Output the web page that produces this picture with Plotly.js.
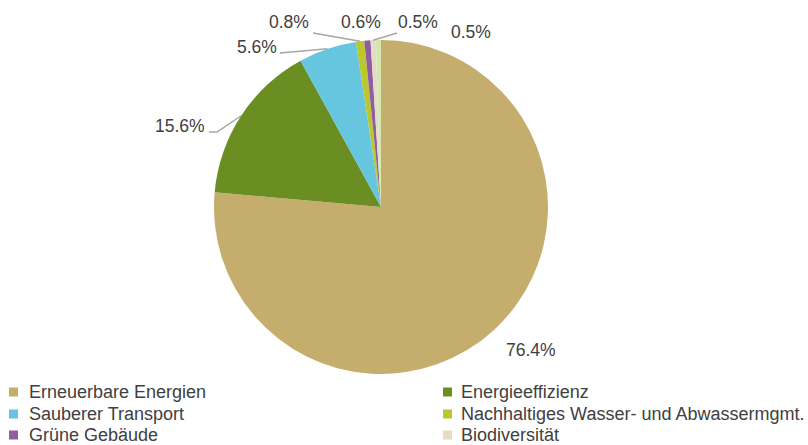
<!DOCTYPE html>
<html>
<head>
<meta charset="utf-8">
<script src="https://cdn.plot.ly/plotly-3.0.1.min.js"></script>
<style>html,body{margin:0;padding:0;background:#fff;}#chart{width:808px;height:445px;}</style>
</head>
<body>
<div id="chart"></div>
<script>
// ---- data ----
const categories = ["Erneuerbare Energien","Energieeffizienz","Sauberer Transport","Nachhaltiges Wasser- und Abwassermgmt.","Grüne Gebäude","Biodiversität","Sonstige"];
const shares = [76.4, 15.6, 5.6, 0.8, 0.6, 0.5, 0.5];
const shareLabels = ["76.4%","15.6%","5.6%","0.8%","0.6%","0.5%","0.5%"];

// ---- style ----
const colors = ["#C5AD6E","#6A8E22","#66C5DF","#BBC72E","#8E5FA0","#E6DCC6","#D3E8B0"];
// label centre positions (px) and leader elbow points (px, null = no leader)
const labelPos = [[531,350],[180,126],[257,47],[289,22],[361,22],[418,22],[471,32]];
const leaderEnd = [null,[[217,132],[209,132]],[[280,53]],[[313,33]],null,[[397,33]],null];
const legendVisible = 6;

const W = 808, H = 445;
const M = {l: 0, r: 46, t: 40, b: 71};
const pw = W - M.l - M.r, ph = H - M.t - M.b;
const cx = M.l + pw / 2, cy = M.t + ph / 2, R = Math.min(pw, ph) / 2;
const px2x = x => (x - M.l) / pw;
const py2y = y => (H - M.b - y) / ph;

const FONT = "Liberation Sans, Arial, sans-serif";
const total = shares.reduce((a, b) => a + b, 0);

const annotations = [];
const shapes = [];
let cum = 0;
shares.forEach((v, i) => {
  const mid = (cum + v / 2) / total * 2 * Math.PI; // clockwise from top
  cum += v;
  const ax = cx + R * Math.sin(mid), ay = cy - R * Math.cos(mid);
  annotations.push({
    xref: "paper", yref: "paper", x: px2x(labelPos[i][0]), y: py2y(labelPos[i][1]),
    text: shareLabels[i], showarrow: false, xanchor: "center", yanchor: "middle",
    font: {family: FONT, size: 17.5, color: "#404040"}
  });
  if (leaderEnd[i]) {
    let d = "M" + px2x(ax) + "," + py2y(ay);
    leaderEnd[i].forEach(p => { d += " L" + px2x(p[0]) + "," + py2y(p[1]); });
    shapes.push({type: "path", xref: "paper", yref: "paper", path: d,
      line: {color: "#A6A6A6", width: 1.5}});
  }
});

// manual legend (two columns)
const legCol = [[9, 27], [443, 459]];
const legRowY = [392, 414, 435];
const sq = 9;
for (let i = 0; i < legendVisible; i++) {
  const col = i % 2, row = Math.floor(i / 2);
  const y = legRowY[row];
  shapes.push({type: "rect", xref: "paper", yref: "paper",
    x0: px2x(legCol[col][0]), x1: px2x(legCol[col][0] + sq),
    y0: py2y(y + sq / 2), y1: py2y(y - sq / 2),
    fillcolor: colors[i], line: {width: 0}});
  annotations.push({xref: "paper", yref: "paper", x: px2x(legCol[col][1]), y: py2y(y),
    text: categories[i], showarrow: false, xanchor: "left", yanchor: "middle",
    font: {family: FONT, size: 18, color: "#404040"}});
}

const trace = {
  type: "pie",
  labels: categories,
  values: shares,
  sort: false,
  direction: "clockwise",
  rotation: 0,
  marker: {colors: colors, line: {width: 0}},
  textposition: "none",
  hoverinfo: "label+percent",
  automargin: false,
  showlegend: false
};

const layout = {
  width: W, height: H,
  margin: {l: M.l, r: M.r, t: M.t, b: M.b, autoexpand: false},
  paper_bgcolor: "#ffffff",
  showlegend: false,
  annotations: annotations,
  shapes: shapes,
  font: {family: FONT}
};

Plotly.newPlot("chart", [trace], layout, {displayModeBar: false, staticPlot: true});
</script>
</body>
</html>
